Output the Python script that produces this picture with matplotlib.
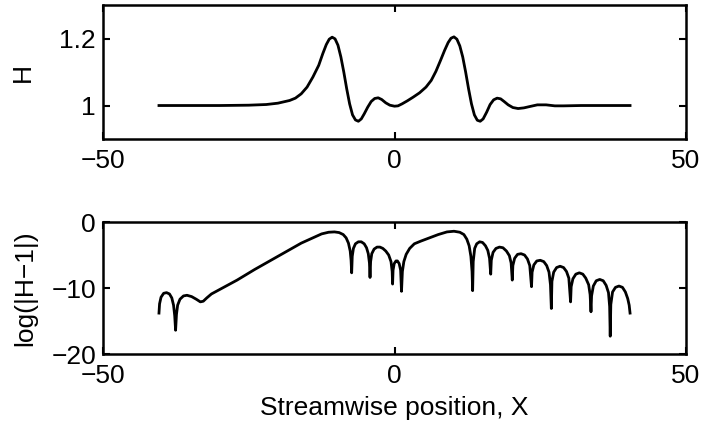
import matplotlib
matplotlib.use("Agg")
import matplotlib.pyplot as plt

plt.rcParams['font.family'] = ['Liberation Sans', 'DejaVu Sans']
plt.rcParams['font.size'] = 19

# H(X)
x_h = [-40.4, -30, -25, -22, -20, -18, -17, -16, -15, -14, -13, -12.3, -11.7, -11.2,
       -10.7, -10.2, -9.7, -9.2, -8.7, -8.2, -7.7, -7.2, -6.7, -6.2, -5.7, -5.2,
       -4.6, -4.0, -3.4, -2.8, -2.2, -1.5, -0.8, 0, 0.6, 1.3, 2.2, 3.2, 4.3, 5.4,
       6.3, 7.1, 7.9, 8.6, 9.2, 9.7, 10.2, 10.7, 11.2, 11.7, 12.2, 12.7, 13.2,
       13.7, 14.2, 14.7, 15.2, 15.8, 16.4, 17.0, 17.6, 18.2, 18.8, 19.5, 20.3,
       21.2, 22.2, 23.2, 24.5, 26, 27.5, 29, 32, 40.4]
h = [1.000, 1.000, 1.001, 1.003, 1.007, 1.015, 1.022, 1.035, 1.055, 1.085, 1.120,
     1.155, 1.182, 1.198, 1.204, 1.199, 1.180, 1.145, 1.100, 1.050, 1.005, 0.972,
     0.957, 0.953, 0.960, 0.975, 0.995, 1.012, 1.021, 1.023, 1.018, 1.008, 1.001,
     0.998, 0.999, 1.005, 1.014, 1.025, 1.038, 1.055, 1.075, 1.102, 1.135, 1.165,
     1.188, 1.201, 1.205, 1.198, 1.178, 1.145, 1.100, 1.050, 1.005, 0.972, 0.956,
     0.953, 0.960, 0.980, 1.003, 1.017, 1.022, 1.020, 1.012, 1.002, 0.994, 0.991,
     0.993, 0.997, 1.002, 1.002, 0.999, 0.999, 1.000, 1.000]

# log(|H-1|)
x_log = [-40.4, -40.3, -40.05, -39.6, -39.1, -38.6, -38.2, -37.9, -37.7, -37.55,
         -37.4, -37.2, -36.8, -36.2, -35.6, -34.8, -34.0, -33.3, -32.8, -32.2,
         -31.4, -29.5, -27, -24, -21, -18, -16, -14, -12.5, -11.3, -10.3, -9.5,
         -8.8, -8.3, -7.9, -7.6, -7.45, -7.35,
         -7.25, -7.05, -6.7, -6.2, -5.7, -5.2, -4.8, -4.5, -4.3, -4.2,
         -4.1, -3.9, -3.5, -3.0, -2.5, -2.0, -1.5, -1.0, -0.6, -0.4, -0.33,
         -0.25, -0.05, 0.25, 0.5, 0.8, 1.05, 1.2,
         1.35, 1.6, 2.0, 2.6, 3.4, 4.5, 6, 7.5, 9, 10.2, 11.2, 11.9, 12.4, 12.8,
         13.1, 13.3, 13.4,
         13.5, 13.75, 14.1, 14.6, 15.1, 15.6, 16.0, 16.3, 16.5,
         16.6, 16.9, 17.4, 18.0, 18.6, 19.2, 19.7, 20.0, 20.2,
         20.3, 20.6, 21.1, 21.7, 22.3, 22.8, 23.2, 23.5,
         23.6, 23.9, 24.4, 25.0, 25.6, 26.1, 26.5, 26.75, 26.9,
         27.0, 27.3, 27.8, 28.4, 29.0, 29.5, 29.9, 30.2,
         30.3, 30.6, 31.1, 31.7, 32.3, 32.8, 33.3, 33.55, 33.7,
         33.8, 34.1, 34.6, 35.2, 35.8, 36.3, 36.7, 36.9, 37.0,
         37.1, 37.4, 37.9, 38.5, 39.1, 39.6, 40.0, 40.25, 40.4]
log_h = [-13.8, -12.4, -11.4, -10.8, -10.7, -10.9, -11.5, -12.6, -14.2, -16.4,
         -14.0, -12.6, -11.7, -11.2, -11.1, -11.3, -11.7, -12.1, -12.0, -11.5,
         -10.9, -10.0, -8.8, -7.2, -5.7, -4.2, -3.2, -2.4, -1.8, -1.55, -1.5, -1.6,
         -1.9, -2.4, -3.2, -4.4, -5.8, -7.7,
         -5.2, -4.0, -3.3, -3.0, -3.0, -3.3, -3.9, -4.8, -6.2, -8.4,
         -6.0, -4.8, -4.1, -3.8, -3.8, -4.0, -4.4, -5.0, -6.0, -7.5, -9.4,
         -7.3, -6.3, -5.9, -5.9, -6.3, -7.3, -10.5,
         -7.5, -6.0, -4.9, -4.0, -3.3, -2.9, -2.4, -1.9, -1.5, -1.4, -1.55, -1.9,
         -2.6, -3.6, -5.2, -7.5, -10.4,
         -6.0, -4.0, -3.3, -3.0, -3.1, -3.6, -4.3, -5.5, -7.9,
         -5.8, -4.6, -4.0, -3.8, -3.9, -4.4, -5.1, -6.2, -8.8,
         -6.6, -5.5, -4.9, -4.8, -5.0, -5.6, -6.6, -9.8,
         -7.6, -6.5, -5.9, -5.8, -6.0, -6.6, -7.6, -9.5, -13.1,
         -9.0, -7.6, -6.9, -6.7, -6.9, -7.5, -8.5, -12.1,
         -9.8, -8.6, -7.9, -7.7, -7.9, -8.5, -9.5, -11.0, -13.6,
         -11.2, -9.7, -8.9, -8.7, -8.9, -9.6, -10.7, -12.8, -17.3,
         -12.5, -10.6, -9.9, -9.7, -9.9, -10.6, -11.6, -12.6, -13.8]

x_ticks = [-50, 0, 50]
h_ticks = [1, 1.2]
h_tick_labels = ['1', '1.2']
log_ticks = [-20, -10, 0]


def style_axes(ax):
    ax.tick_params(direction='in', top=True, right=True, length=5, width=1.5)
    ax.tick_params(axis='x', pad=7)
    ax.tick_params(axis='y', pad=5)
    for s in ax.spines.values():
        s.set_linewidth(1.8)


fig = plt.figure(figsize=(7.06, 4.30), dpi=100)

ax1 = fig.add_axes([0.1459, 0.6767, 0.8258, 0.3116])
ax1.plot(x_h, h, color='black', lw=2)
ax1.set_xlim(-50, 50)
ax1.set_ylim(0.9, 1.3)
ax1.set_xticks(x_ticks)
ax1.set_yticks(h_ticks)
ax1.set_yticklabels(h_tick_labels)
ax1.set_ylabel('H', labelpad=18)
style_axes(ax1)

ax2 = fig.add_axes([0.1459, 0.1767, 0.8258, 0.307])
ax2.plot(x_log, log_h, color='black', lw=2)
ax2.set_xlim(-50, 50)
ax2.set_ylim(-20, 0)
ax2.set_xticks(x_ticks)
ax2.set_yticks(log_ticks)
ax2.set_ylabel('log(|H\u22121|)', labelpad=10)
ax2.set_xlabel('Streamwise position, X', labelpad=6)
style_axes(ax2)

fig.savefig('out.png', dpi=100)
